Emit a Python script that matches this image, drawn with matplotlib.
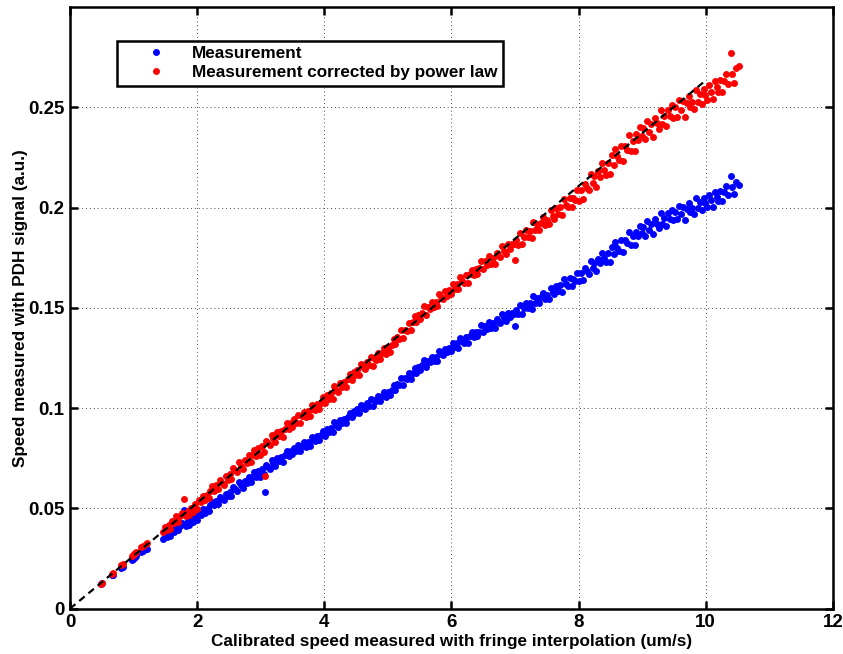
import matplotlib
matplotlib.use("Agg")
import matplotlib.pyplot as plt

# Calibrated speed from fringe interpolation (um/s)
speed_fringe = [
    0.49, 0.51, 0.66, 0.67, 0.81, 0.83, 0.97, 0.99, 1.00, 1.02, 1.04, 1.12, 1.15, 1.19, 1.21,
    1.46, 1.49, 1.52, 1.55, 1.58, 1.61, 1.64, 1.67, 1.70, 1.73, 1.76, 1.79, 1.82, 1.85, 1.88, 1.91, 1.94, 1.97, 2.00,
    2.03, 2.06, 2.09, 2.12, 2.15, 2.18, 2.21, 2.24, 2.27, 2.30, 2.33, 2.36, 2.39, 2.42, 2.45, 2.48,
    2.51, 2.54, 2.57, 2.60, 2.63, 2.66, 2.69, 2.72, 2.75, 2.78, 2.81, 2.84, 2.87, 2.90, 2.93, 2.96, 2.99,
    3.02, 3.05, 3.07, 3.08, 3.11, 3.14, 3.17, 3.20, 3.23, 3.26, 3.29, 3.32, 3.35, 3.38, 3.41, 3.44, 3.47,
    3.50, 3.53, 3.56, 3.59, 3.62, 3.65, 3.68, 3.71, 3.74, 3.77, 3.80, 3.83, 3.86, 3.89, 3.92, 3.95, 3.98,
    4.01, 4.04, 4.07, 4.10, 4.13, 4.16, 4.19, 4.22, 4.25, 4.28, 4.31, 4.34, 4.37, 4.40, 4.43, 4.46, 4.49,
    4.52, 4.55, 4.58, 4.61, 4.64, 4.67, 4.70, 4.73, 4.76, 4.79, 4.82, 4.85, 4.88, 4.91, 4.94, 4.97,
    5.00, 5.03, 5.06, 5.09, 5.12, 5.15, 5.18, 5.21, 5.24, 5.27, 5.30, 5.33, 5.36, 5.39, 5.42, 5.45, 5.48,
    5.51, 5.54, 5.57, 5.60, 5.63, 5.66, 5.69, 5.72, 5.75, 5.78, 5.81, 5.84, 5.87, 5.90, 5.93, 5.96, 5.99,
    6.02, 6.05, 6.08, 6.11, 6.14, 6.17, 6.20, 6.23, 6.26, 6.29, 6.32, 6.35, 6.38, 6.41, 6.44, 6.47,
    6.50, 6.53, 6.56, 6.59, 6.62, 6.65, 6.68, 6.71, 6.74, 6.77, 6.80, 6.83, 6.86, 6.89, 6.92, 6.95, 6.98, 7.00,
    7.02, 7.05, 7.08, 7.11, 7.14, 7.17, 7.20, 7.23, 7.26, 7.29, 7.32, 7.35, 7.38, 7.41, 7.44, 7.47,
    7.50, 7.53, 7.56, 7.59, 7.62, 7.65, 7.68, 7.71, 7.74, 7.77, 7.80, 7.83, 7.86, 7.89, 7.92, 7.95, 7.98,
    8.01, 8.04, 8.07, 8.10, 8.13, 8.16, 8.19, 8.22, 8.25, 8.28, 8.31, 8.34, 8.37, 8.40, 8.43, 8.46, 8.49,
    8.52, 8.55, 8.58, 8.61, 8.64, 8.67, 8.70, 8.73, 8.76, 8.79, 8.82, 8.85, 8.88, 8.91, 8.94, 8.97, 8.99,
    9.02, 9.05, 9.08, 9.11, 9.14, 9.17, 9.20, 9.23, 9.26, 9.29, 9.32, 9.35, 9.38, 9.41, 9.44, 9.47, 9.49,
    9.52, 9.55, 9.58, 9.61, 9.64, 9.67, 9.70, 9.73, 9.76, 9.79, 9.82, 9.85, 9.88, 9.91, 9.94, 9.97, 9.99,
    10.02, 10.05, 10.08, 10.11, 10.14, 10.17, 10.20, 10.23, 10.26, 10.29, 10.32, 10.35, 10.39, 10.42, 10.45, 10.48, 10.53,
]

# Raw PDH speed readout (a.u.)
pdh_measured = [
    0.0122, 0.0126, 0.0168, 0.0170, 0.0205, 0.0209, 0.0243, 0.0249, 0.0254, 0.0258, 0.0262, 0.0281, 0.0286, 0.0296, 0.0300,
    0.0347, 0.0368, 0.0356, 0.0375, 0.0361, 0.0394, 0.0384, 0.0414, 0.0390, 0.0412, 0.0427, 0.0490, 0.0414, 0.0435, 0.0418, 0.0445, 0.0433, 0.0462, 0.0440,
    0.0477, 0.0468, 0.0495, 0.0476, 0.0498, 0.0485, 0.0516, 0.0533, 0.0516, 0.0538, 0.0523, 0.0559, 0.0548, 0.0540, 0.0574, 0.0561,
    0.0582, 0.0564, 0.0605, 0.0597, 0.0589, 0.0630, 0.0615, 0.0600, 0.0639, 0.0627, 0.0658, 0.0633, 0.0659, 0.0680, 0.0657, 0.0686, 0.0658,
    0.0694, 0.0672, 0.0580, 0.0716, 0.0706, 0.0698, 0.0739, 0.0725, 0.0711, 0.0750, 0.0735, 0.0754, 0.0730, 0.0764, 0.0787, 0.0763, 0.0786,
    0.0770, 0.0800, 0.0786, 0.0816, 0.0787, 0.0812, 0.0830, 0.0808, 0.0831, 0.0811, 0.0856, 0.0841, 0.0837, 0.0862, 0.0841, 0.0866, 0.0886,
    0.0862, 0.0894, 0.0880, 0.0902, 0.0879, 0.0930, 0.0914, 0.0906, 0.0943, 0.0926, 0.0948, 0.0927, 0.0957, 0.0978, 0.0955, 0.0986, 0.0975,
    0.0994, 0.0974, 0.1016, 0.1003, 0.0995, 0.1026, 0.1011, 0.1046, 0.1009, 0.1040, 0.1033, 0.1058, 0.1036, 0.1060, 0.1079, 0.1057,
    0.1080, 0.1063, 0.1091, 0.1113, 0.1091, 0.1121, 0.1114, 0.1150, 0.1117, 0.1148, 0.1143, 0.1174, 0.1146, 0.1176, 0.1201, 0.1177, 0.1205,
    0.1190, 0.1213, 0.1239, 0.1205, 0.1236, 0.1229, 0.1256, 0.1234, 0.1255, 0.1236, 0.1284, 0.1271, 0.1264, 0.1295, 0.1278, 0.1302, 0.1283,
    0.1324, 0.1304, 0.1324, 0.1302, 0.1350, 0.1335, 0.1326, 0.1356, 0.1327, 0.1360, 0.1378, 0.1357, 0.1380, 0.1359, 0.1382, 0.1413,
    0.1380, 0.1410, 0.1395, 0.1429, 0.1397, 0.1422, 0.1399, 0.1442, 0.1430, 0.1423, 0.1468, 0.1448, 0.1433, 0.1472, 0.1454, 0.1472, 0.1471, 0.1410,
    0.1489, 0.1469, 0.1514, 0.1470, 0.1500, 0.1526, 0.1498, 0.1523, 0.1492, 0.1557, 0.1525, 0.1551, 0.1523, 0.1552, 0.1574, 0.1543,
    0.1565, 0.1545, 0.1601, 0.1578, 0.1567, 0.1607, 0.1584, 0.1613, 0.1578, 0.1644, 0.1619, 0.1609, 0.1647, 0.1610, 0.1646, 0.1636, 0.1676,
    0.1632, 0.1675, 0.1637, 0.1699, 0.1683, 0.1670, 0.1736, 0.1698, 0.1725, 0.1682, 0.1744, 0.1722, 0.1774, 0.1749, 0.1728, 0.1772, 0.1728,
    0.1802, 0.1766, 0.1828, 0.1799, 0.1781, 0.1837, 0.1779, 0.1836, 0.1822, 0.1879, 0.1815, 0.1857, 0.1814, 0.1880, 0.1857, 0.1908, 0.1873,
    0.1903, 0.1858, 0.1933, 0.1888, 0.1917, 0.1867, 0.1942, 0.1920, 0.1897, 0.1971, 0.1916, 0.1946, 0.1906, 0.1971, 0.1945, 0.1990, 0.1938,
    0.1979, 0.1941, 0.2010, 0.1968, 0.2002, 0.1940, 0.1994, 0.2023, 0.1976, 0.2000, 0.1968, 0.2047, 0.1996, 0.2029, 0.1988, 0.2046, 0.2023,
    0.2003, 0.2062, 0.2036, 0.2005, 0.2080, 0.2054, 0.2033, 0.2082, 0.2031, 0.2076, 0.2105, 0.2064, 0.2155, 0.2104, 0.2068, 0.2127, 0.2112,
]

# PDH readout after the power-law correction (a.u.)
pdh_corrected = [
    0.0124, 0.0129, 0.0175, 0.0178, 0.0218, 0.0222, 0.0261, 0.0268, 0.0274, 0.0279, 0.0284, 0.0306, 0.0312, 0.0324, 0.0329,
    0.0384, 0.0409, 0.0392, 0.0415, 0.0398, 0.0439, 0.0426, 0.0463, 0.0434, 0.0460, 0.0479, 0.0546, 0.0462, 0.0487, 0.0467, 0.0500, 0.0484, 0.0520, 0.0495,
    0.0540, 0.0530, 0.0563, 0.0540, 0.0567, 0.0550, 0.0589, 0.0610, 0.0589, 0.0616, 0.0597, 0.0643, 0.0628, 0.0619, 0.0661, 0.0644,
    0.0671, 0.0648, 0.0700, 0.0689, 0.0679, 0.0730, 0.0712, 0.0694, 0.0741, 0.0726, 0.0765, 0.0733, 0.0767, 0.0792, 0.0763, 0.0800, 0.0764,
    0.0809, 0.0783, 0.0660, 0.0837, 0.0825, 0.0816, 0.0866, 0.0849, 0.0831, 0.0880, 0.0861, 0.0885, 0.0856, 0.0898, 0.0927, 0.0898, 0.0926,
    0.0907, 0.0945, 0.0927, 0.0965, 0.0927, 0.0959, 0.0982, 0.0955, 0.0984, 0.0959, 0.1015, 0.0996, 0.0991, 0.1023, 0.0996, 0.1028, 0.1053,
    0.1024, 0.1063, 0.1047, 0.1073, 0.1044, 0.1109, 0.1088, 0.1080, 0.1125, 0.1104, 0.1132, 0.1106, 0.1144, 0.1170, 0.1141, 0.1181, 0.1166,
    0.1192, 0.1166, 0.1219, 0.1203, 0.1193, 0.1231, 0.1213, 0.1257, 0.1211, 0.1250, 0.1241, 0.1273, 0.1246, 0.1275, 0.1300, 0.1272,
    0.1301, 0.1280, 0.1315, 0.1344, 0.1318, 0.1355, 0.1346, 0.1391, 0.1351, 0.1390, 0.1384, 0.1422, 0.1388, 0.1427, 0.1458, 0.1429, 0.1463,
    0.1446, 0.1475, 0.1507, 0.1465, 0.1504, 0.1496, 0.1530, 0.1504, 0.1530, 0.1507, 0.1567, 0.1552, 0.1544, 0.1583, 0.1561, 0.1591, 0.1568,
    0.1620, 0.1596, 0.1621, 0.1594, 0.1654, 0.1635, 0.1625, 0.1663, 0.1626, 0.1668, 0.1691, 0.1666, 0.1695, 0.1668, 0.1698, 0.1736,
    0.1696, 0.1733, 0.1715, 0.1758, 0.1719, 0.1750, 0.1721, 0.1775, 0.1761, 0.1753, 0.1809, 0.1784, 0.1766, 0.1816, 0.1794, 0.1816, 0.1817, 0.1740,
    0.1839, 0.1815, 0.1871, 0.1816, 0.1854, 0.1886, 0.1852, 0.1885, 0.1846, 0.1928, 0.1887, 0.1920, 0.1886, 0.1923, 0.1951, 0.1912,
    0.1940, 0.1916, 0.1986, 0.1958, 0.1944, 0.1996, 0.1968, 0.2004, 0.1962, 0.2044, 0.2013, 0.2003, 0.2049, 0.2004, 0.2048, 0.2038, 0.2088,
    0.2034, 0.2088, 0.2042, 0.2119, 0.2100, 0.2086, 0.2167, 0.2121, 0.2156, 0.2103, 0.2181, 0.2154, 0.2220, 0.2189, 0.2164, 0.2220, 0.2165,
    0.2261, 0.2214, 0.2292, 0.2257, 0.2235, 0.2306, 0.2234, 0.2306, 0.2289, 0.2360, 0.2282, 0.2334, 0.2281, 0.2365, 0.2337, 0.2402, 0.2358,
    0.2396, 0.2341, 0.2434, 0.2379, 0.2416, 0.2354, 0.2447, 0.2421, 0.2392, 0.2486, 0.2417, 0.2455, 0.2405, 0.2487, 0.2456, 0.2513, 0.2448,
    0.2499, 0.2452, 0.2538, 0.2487, 0.2529, 0.2453, 0.2520, 0.2557, 0.2499, 0.2528, 0.2490, 0.2588, 0.2525, 0.2567, 0.2516, 0.2589, 0.2561,
    0.2536, 0.2610, 0.2578, 0.2540, 0.2633, 0.2601, 0.2575, 0.2637, 0.2574, 0.2630, 0.2666, 0.2616, 0.2770, 0.2666, 0.2621, 0.2696, 0.2706,
]

# Reference calibration line
fit_speed = [0.0, 10.0]
fit_signal = [0.0, 0.2634]

x_ticks = [0, 2, 4, 6, 8, 10, 12]
x_tick_labels = ["0", "2", "4", "6", "8", "10", "12"]
y_ticks = [0, 0.05, 0.10, 0.15, 0.20, 0.25]
y_tick_labels = ["0", "0.05", "0.1", "0.15", "0.2", "0.25"]

plt.rcParams["font.family"] = ["Liberation Sans", "DejaVu Sans"]
plt.rcParams["font.weight"] = "bold"

fig = plt.figure(figsize=(8.43, 6.54), dpi=100)
ax = fig.add_axes([0.083, 0.0693, 0.905, 0.92])

ax.plot(speed_fringe, pdh_measured, linestyle="none", marker="o", markersize=5.0,
        markeredgewidth=0, color=(0, 0, 1), label="Measurement", zorder=3)
ax.plot(speed_fringe, pdh_corrected, linestyle="none", marker="o", markersize=5.0,
        markeredgewidth=0, color=(1, 0, 0), label="Measurement corrected by power law", zorder=4)
ax.plot(fit_speed, fit_signal, color="black", linewidth=1.6,
        linestyle=(0, (3.2, 2.2)), zorder=5)

ax.set_xlim(0, 12)
ax.set_ylim(0, 0.30)
ax.set_xticks(x_ticks)
ax.set_xticklabels(x_tick_labels)
ax.set_yticks(y_ticks)
ax.set_yticklabels(y_tick_labels)

ax.grid(True, color="0.3", linestyle=(0, (1, 3)), linewidth=0.7)
ax.set_axisbelow(True)

for side in ax.spines.values():
    side.set_linewidth(1.8)
ax.tick_params(direction="in", length=6, width=1.8, top=True, right=True,
               labelsize=13.5, pad=4)
for lbl in ax.get_xticklabels() + ax.get_yticklabels():
    lbl.set_fontweight("bold")

ax.set_xlabel("Calibrated speed measured with fringe interpolation (um/s)",
              fontsize=12.3, fontweight="bold", labelpad=2)
ax.set_ylabel("Speed measured with PDH signal (a.u.)",
              fontsize=12.3, fontweight="bold", labelpad=0)

leg = ax.legend(loc="upper left", bbox_to_anchor=(0.0616, 0.9435), borderaxespad=0,
                fancybox=False, framealpha=1, edgecolor="black",
                prop={"weight": "bold", "size": 12.3}, handlelength=4.0,
                handletextpad=0.1, markerscale=1.0, borderpad=0.3, labelspacing=0.25)
leg.get_frame().set_linewidth(1.8)

fig.savefig("out.png", dpi=100)
